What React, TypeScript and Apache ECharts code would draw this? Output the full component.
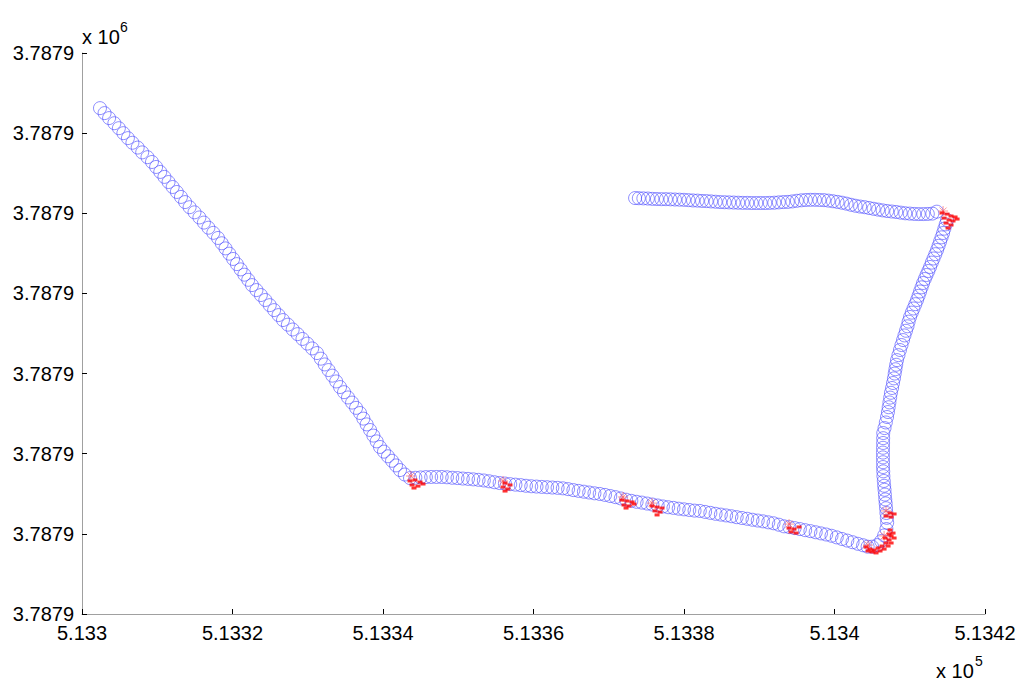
import React, { useEffect, useRef } from "react";
import * as echarts from "echarts";

// Base coordinates (UTM metres); offsets below are metres east / north of these
const EAST0 = 513300;
const NORTH0 = 3787890;

const xTicks = { min: 513300, max: 513420, interval: 20 };
const yTicks = { min: 3787890, max: 3787925, interval: 5 };
const yTickLabel = "3.7879";

// Track segment A: diagonal descent
const trackA: number[][] = [
  [2.39, 31.56], [3.0, 31.25], [3.6, 30.94], [4.3, 30.62], [4.9, 30.31], [5.5, 30.0], [6.1, 29.69],
  [6.7, 29.4], [7.4, 29.1], [8.0, 28.8], [8.7, 28.5], [9.3, 28.2],
  [9.85, 27.89], [10.4, 27.58], [10.95, 27.27], [11.5, 26.95], [12.05, 26.64], [12.6, 26.33], [13.15, 26.02], [13.7, 25.7],
  [14.3, 25.38], [14.95, 25.06], [15.6, 24.74], [16.2, 24.42], [16.8, 24.1], [17.45, 23.78], [18.07, 23.46],
  [18.57, 23.13], [19.07, 22.81], [19.57, 22.48], [20.08, 22.15], [20.58, 21.83], [21.08, 21.5], [21.58, 21.17], [22.09, 20.85], [22.59, 20.52],
  [23.18, 20.21], [23.77, 19.9], [24.36, 19.59], [24.95, 19.27], [25.53, 18.96], [26.12, 18.65], [26.71, 18.34],
  [27.36, 18.05], [28.0, 17.75], [28.65, 17.46], [29.3, 17.16], [29.94, 16.87], [30.59, 16.57], [31.23, 16.28],
  [31.74, 15.93], [32.25, 15.57], [32.76, 15.22], [33.27, 14.87], [33.78, 14.51], [34.29, 14.16],
  [34.82, 13.84], [35.35, 13.51], [35.89, 13.19], [36.42, 12.86], [36.95, 12.54],
  [37.39, 12.19], [37.83, 11.83], [38.28, 11.48], [38.72, 11.13], [39.16, 10.77], [39.6, 10.42],
  [40.13, 10.13], [40.66, 9.84], [41.2, 9.56], [41.73, 9.27], [42.26, 8.98], [42.9, 8.7], [43.59, 8.48],
];

// Track segment B: bottom leg heading east
const trackB: number[][] = [
  [44.3, 8.5], [45.0, 8.52], [45.7, 8.54], [46.4, 8.55], [47.1, 8.55], [47.8, 8.55], [48.5, 8.53], [49.2, 8.5],
  [49.9, 8.48], [50.6, 8.45], [51.3, 8.43], [52.0, 8.4], [52.7, 8.37], [53.4, 8.33], [54.1, 8.28], [54.8, 8.22],
  [55.5, 8.17], [56.2, 8.14], [56.9, 8.1], [57.6, 8.07], [58.3, 8.04], [59.0, 8.0], [59.7, 7.97], [60.4, 7.95],
  [61.1, 7.93], [61.8, 7.91], [62.5, 7.89], [63.2, 7.87], [63.9, 7.84], [64.6, 7.79], [65.3, 7.73], [66.0, 7.68],
  [66.7, 7.63], [67.4, 7.58], [68.1, 7.53], [68.8, 7.49], [69.5, 7.43], [70.2, 7.36], [70.9, 7.29], [71.6, 7.21],
  [72.3, 7.13], [73.0, 7.06], [73.7, 7.0], [74.4, 6.95], [75.1, 6.89], [75.8, 6.83], [76.5, 6.77], [77.2, 6.71],
  [77.9, 6.66], [78.6, 6.62], [79.3, 6.57], [80.0, 6.53], [80.7, 6.49], [81.4, 6.45], [82.1, 6.43], [82.8, 6.37],
  [83.5, 6.31], [84.2, 6.25], [84.9, 6.2], [85.6, 6.15], [86.3, 6.1], [87.0, 6.04], [87.7, 5.99], [88.4, 5.94],
  [89.1, 5.88], [89.8, 5.83], [90.5, 5.78], [91.2, 5.72], [91.9, 5.66], [92.6, 5.57], [93.3, 5.47], [94.0, 5.42],
  [94.7, 5.36], [95.4, 5.3], [96.1, 5.23], [96.8, 5.17], [97.5, 5.1], [98.2, 5.03], [98.9, 4.96], [99.6, 4.88],
  [100.3, 4.78], [101.0, 4.68], [101.7, 4.58], [102.4, 4.48], [103.1, 4.38], [103.8, 4.29], [104.4, 4.2],
];

// Track segment C: corner and climb north
const trackC: number[][] = [
  [105.0, 4.2], [105.7, 4.3], [106.2, 4.55], [106.6, 4.9], [106.9, 5.3], [107.0, 5.7],
  [106.95, 6.0], [106.9, 6.3], [106.85, 6.6], [106.8, 6.9], [106.75, 7.15],
  [106.7, 7.45], [106.65, 7.75], [106.6, 8.0], [106.55, 8.3], [106.5, 8.6], [106.48, 8.9], [106.45, 9.17],
  [106.45, 9.47], [106.44, 9.77], [106.44, 10.07], [106.45, 10.37], [106.46, 10.67], [106.47, 10.97], [106.48, 11.29],
  [106.65, 11.6], [106.82, 11.95], [106.98, 12.29],
  [107.1, 12.6], [107.2, 12.9], [107.3, 13.2], [107.4, 13.5], [107.5, 13.8], [107.65, 14.1], [107.78, 14.41],
  [107.9, 14.7], [108.0, 15.0], [108.1, 15.27], [108.2, 15.55], [108.31, 15.84],
  [108.5, 16.15], [108.7, 16.47], [108.9, 16.78], [109.11, 17.09],
  [109.3, 17.38], [109.5, 17.67], [109.7, 17.95], [109.85, 18.24], [110.04, 18.53],
  [110.27, 18.8], [110.5, 19.06], [110.74, 19.33], [110.97, 19.59],
  [111.17, 19.85], [111.37, 20.12], [111.57, 20.38], [111.77, 20.65],
  [112.0, 20.9], [112.23, 21.15], [112.47, 21.4], [112.7, 21.65],
  [112.93, 21.92], [113.16, 22.18], [113.4, 22.45], [113.63, 22.71],
  [113.83, 22.97], [114.03, 23.24], [114.23, 23.5], [114.43, 23.77],
  [114.6, 24.04], [114.78, 24.31], [114.96, 24.58], [113.6, 25.1],
];

// Track segment D: top leg heading west
const trackD: number[][] = [
  [113.0, 24.98], [112.4, 24.96], [111.8, 24.95], [111.2, 24.95], [110.6, 24.96], [110.0, 24.98], [109.4, 25.0],
  [108.8, 25.04], [108.2, 25.08], [107.6, 25.11], [107.0, 25.14], [106.4, 25.18], [105.8, 25.23], [105.2, 25.28],
  [104.6, 25.33], [104.0, 25.38], [103.4, 25.42], [102.8, 25.47], [102.2, 25.53], [101.6, 25.6], [101.0, 25.66],
  [100.4, 25.71], [99.8, 25.75], [99.2, 25.79], [98.6, 25.82], [98.0, 25.83], [97.4, 25.84], [96.8, 25.84],
  [96.2, 25.83], [95.6, 25.81], [95.0, 25.78], [94.4, 25.74], [93.8, 25.71], [93.2, 25.7], [92.6, 25.68],
  [92.0, 25.66], [91.4, 25.65], [90.8, 25.64], [90.2, 25.64], [89.6, 25.64], [89.0, 25.64], [88.4, 25.65],
  [87.8, 25.65], [87.2, 25.66], [86.6, 25.67], [86.0, 25.68], [85.4, 25.69], [84.8, 25.7], [84.2, 25.72],
  [83.6, 25.74], [83.0, 25.76], [82.4, 25.77], [81.8, 25.79], [81.2, 25.8], [80.6, 25.82], [80.0, 25.84],
  [79.4, 25.85], [78.8, 25.86], [78.2, 25.87], [77.6, 25.88], [77.0, 25.88], [76.4, 25.89], [75.8, 25.9],
  [75.2, 25.92], [74.6, 25.93], [74.0, 25.94], [73.5, 25.95],
];

// Red detection points (clusters)
const redPoints: number[][] = [
  [43.59, 8.3], [44.25, 8.36], [44.92, 8.23], [43.86, 8.05], [44.65, 7.98], [45.32, 8.11], [44.12, 7.86],
  [56.22, 8.17], [56.88, 8.05], [55.95, 7.92], [56.61, 7.8], [56.22, 7.67],
  [71.77, 7.11], [72.43, 7.05], [73.1, 6.99], [72.03, 6.8], [72.7, 6.74], [73.36, 6.86], [72.3, 6.61],
  [75.75, 6.74], [76.42, 6.67], [77.08, 6.61], [76.15, 6.43], [76.82, 6.36], [76.42, 6.18],
  [93.96, 5.36], [94.62, 5.3], [95.29, 5.43], [94.22, 5.12], [94.89, 5.05],
  [104.19, 4.18], [104.72, 4.05], [105.26, 3.99], [105.79, 4.12], [106.32, 4.24], [106.85, 4.43], [107.25, 4.62],
  [107.52, 4.87], [107.78, 5.05], [107.38, 5.24], [104.99, 3.87], [105.52, 3.81], [106.05, 3.93], [106.59, 4.05],
  [107.12, 4.24], [107.52, 4.43], [107.92, 4.74], [104.46, 3.93], [106.72, 4.74], [107.25, 4.99],
  [107.38, 6.3], [107.92, 6.24], [106.85, 6.11], [107.52, 6.05],
  [114.29, 25.02], [114.96, 24.95], [115.49, 24.83], [116.02, 24.77], [114.56, 24.7], [115.22, 24.58],
  [115.75, 24.52], [114.82, 24.39], [115.49, 24.27], [115.09, 24.08], [116.29, 24.64],
];

// Pink asterisk markers
const starPoints: number[][] = [
  [43.72, 8.61], [55.95, 8.3], [71.9, 7.3], [75.75, 6.92], [93.96, 5.61],
  [104.46, 4.3], [106.59, 4.87], [106.85, 6.43], [114.43, 25.14],
];

const toData = (arr: number[][]) => arr.map(([e, n]) => [EAST0 + e, NORTH0 + n]);

const FONT = "'Liberation Sans', Arial, Helvetica, sans-serif";

export default function App() {
  const ref = useRef<HTMLDivElement>(null);
  useEffect(() => {
    document.body.style.margin = "0";
    const chart = echarts.init(ref.current!, undefined, { renderer: "svg" });
    const track = [...trackA, ...trackB, ...trackC, ...trackD];
    chart.setOption({
      animation: false,
      backgroundColor: "#ffffff",
      grid: { left: 82, right: 39, top: 53, bottom: 77, containLabel: false },
      xAxis: {
        type: "value",
        min: xTicks.min,
        max: xTicks.max,
        interval: xTicks.interval,
        axisLine: { show: true, lineStyle: { color: "#a0a0a0", width: 1 } },
        axisTick: { show: true, inside: true, length: 5, lineStyle: { color: "#000" } },
        splitLine: { show: false },
        axisLabel: {
          color: "#000",
          fontSize: 20,
          fontFamily: FONT,
          margin: 9,
          formatter: (v: number) => String(parseFloat((v / 1e5).toFixed(4))),
        },
      },
      yAxis: {
        type: "value",
        min: yTicks.min,
        max: yTicks.max,
        interval: yTicks.interval,
        axisLine: { show: true, lineStyle: { color: "#a0a0a0", width: 1 } },
        axisTick: { show: true, inside: true, length: 5, lineStyle: { color: "#000" } },
        splitLine: { show: false },
        axisLabel: {
          color: "#000",
          fontSize: 20,
          fontFamily: FONT,
          margin: 8,
          formatter: () => yTickLabel,
        },
      },
      series: [
        {
          type: "scatter",
          data: toData(track),
          symbol: "circle",
          symbolSize: 13,
          itemStyle: { color: "rgba(0,0,0,0)", borderColor: "#4d4dff", borderWidth: 0.8 },
          emphasis: { disabled: true },
          z: 2,
        },
        {
          type: "scatter",
          data: toData(starPoints),
          symbol:
            "path://M10,0L10,20M0,10L20,10M3,3L17,17M3,17L17,3",
          symbolSize: 10,
          itemStyle: { color: "rgba(0,0,0,0)", borderColor: "#ff6060", borderWidth: 0.8, opacity: 0.8 },
          emphasis: { disabled: true },
          z: 3,
        },
        {
          type: "scatter",
          data: toData(redPoints),
          symbol: "rect",
          symbolSize: [5, 3],
          itemStyle: { color: "#ff0000" },
          emphasis: { disabled: true },
          z: 4,
        },
      ],
      graphic: [
        { type: "text", left: 82, top: 27, style: { text: "x 10", fontSize: 20, fontFamily: FONT, fill: "#000" } },
        { type: "text", left: 120, top: 20, style: { text: "6", fontSize: 14, fontFamily: FONT, fill: "#000" } },
        { type: "text", left: 936, top: 661, style: { text: "x 10", fontSize: 20, fontFamily: FONT, fill: "#000" } },
        { type: "text", left: 975, top: 654, style: { text: "5", fontSize: 14, fontFamily: FONT, fill: "#000" } },
      ],
    });
    return () => chart.dispose();
  }, []);
  return <div ref={ref} style={{ width: 1024, height: 691 }} />;
}
